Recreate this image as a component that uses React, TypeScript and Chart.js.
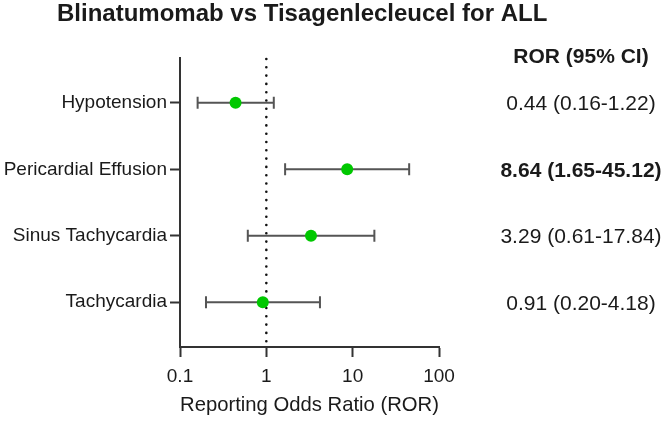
import React, { useEffect, useRef } from 'react';
import { Chart, registerables } from 'chart.js';

Chart.register(...registerables);

const categories = ['Hypotension', 'Pericardial Effusion', 'Sinus Tachycardia', 'Tachycardia'];
const rorValues = [0.44, 8.64, 3.29, 0.91];
const ciLower = [0.16, 1.65, 0.61, 0.2];
const ciUpper = [1.22, 45.12, 17.84, 4.18];
const rorLabels = ['0.44 (0.16-1.22)', '8.64 (1.65-45.12)', '3.29 (0.61-17.84)', '0.91 (0.20-4.18)'];
const boldRows = [false, true, false, false];
const xTickValues = [0.1, 1, 10, 100];
const xTickLabels = ['0.1', '1', '10', '100'];
const titleText = 'Blinatumomab vs Tisagenlecleucel for ALL';
const columnHeader = 'ROR (95% CI)';
const xAxisTitle = 'Reporting Odds Ratio (ROR)';
const referenceValue = 1;

const FONT = '"Liberation Sans", Arial, Helvetica, sans-serif';
const TEXT = '#1a1a1a';
const AXIS = '#333333';

const forestPlugin = {
  id: 'forestExtras',
  beforeDatasetsDraw(chart: any) {
    const { ctx, chartArea, scales } = chart;
    const x = scales.x;
    const y = scales.y;
    ctx.save();
    // dotted reference line
    const rx = x.getPixelForValue(referenceValue);
    ctx.strokeStyle = '#111111';
    ctx.lineWidth = 2.6;
    ctx.lineCap = 'round';
    ctx.setLineDash([0, 8.3]);
    ctx.beginPath();
    ctx.moveTo(rx, chartArea.top + 1);
    ctx.lineTo(rx, chartArea.bottom);
    ctx.stroke();
    ctx.setLineDash([]);
    // error bars
    ctx.strokeStyle = '#555555';
    ctx.lineWidth = 2;
    ctx.lineCap = 'butt';
    categories.forEach((_, i) => {
      const py = y.getPixelForValue(i);
      const x1 = x.getPixelForValue(ciLower[i]);
      const x2 = x.getPixelForValue(ciUpper[i]);
      ctx.beginPath();
      ctx.moveTo(x1, py);
      ctx.lineTo(x2, py);
      ctx.moveTo(x1, py - 6);
      ctx.lineTo(x1, py + 6);
      ctx.moveTo(x2, py - 6);
      ctx.lineTo(x2, py + 6);
      ctx.stroke();
    });
    ctx.restore();
  },
  afterDraw(chart: any) {
    const { ctx, scales } = chart;
    const y = scales.y;
    ctx.save();
    ctx.fillStyle = TEXT;
    // title
    ctx.font = `bold 24px ${FONT}`;
    ctx.textAlign = 'left';
    ctx.textBaseline = 'alphabetic';
    ctx.fillText(titleText, 57, 21);
    // column header
    const colX = 581;
    ctx.textAlign = 'center';
    ctx.font = `bold 21px ${FONT}`;
    ctx.fillText(columnHeader, colX, 62.5);
    // values
    rorLabels.forEach((lbl, i) => {
      ctx.font = `${boldRows[i] ? 'bold ' : ''}21px ${FONT}`;
      ctx.fillText(lbl, colX, y.getPixelForValue(i) + 7.5);
    });
    ctx.restore();
  },
};

export default function App() {
  const canvasRef = useRef<HTMLCanvasElement | null>(null);

  useEffect(() => {
    if (!canvasRef.current) return;
    const chart = new Chart(canvasRef.current, {
      type: 'scatter',
      data: {
        datasets: [
          {
            data: rorValues.map((v, i) => ({ x: v, y: i })),
            backgroundColor: '#00c800',
            borderWidth: 0,
            pointRadius: 6,
            pointHoverRadius: 6,
          },
        ],
      },
      options: {
        animation: false,
        responsive: false,
        devicePixelRatio: 1,
        events: [],
        layout: { padding: { top: 58, left: 0, right: 227, bottom: 5 } },
        plugins: {
          legend: { display: false },
          tooltip: { enabled: false },
          title: { display: false },
        },
        scales: {
          x: {
            type: 'logarithmic',
            min: 0.1,
            max: 100,
            afterBuildTicks: (s: any) => {
              s.ticks = xTickValues.map((v) => ({ value: v }));
            },
            afterFit: (s: any) => {
              s.height = 71;
              s.paddingLeft = 0;
              s.paddingRight = 0;
            },
            ticks: {
              callback: (_v: any, i: number) => xTickLabels[i],
              font: { family: FONT, size: 19 },
              color: TEXT,
              padding: 8,
              autoSkip: false,
              maxRotation: 0,
            },
            grid: { drawOnChartArea: false, tickLength: 10, tickWidth: 2, tickColor: AXIS },
            border: { color: AXIS, width: 2 },
            title: {
              display: true,
              text: xAxisTitle,
              font: { family: FONT, size: 21 },
              color: TEXT,
              padding: { top: 0, bottom: 0 },
            },
          },
          y: {
            type: 'linear',
            reverse: true,
            min: -0.675,
            max: 3.675,
            afterBuildTicks: (s: any) => {
              s.ticks = categories.map((_, i) => ({ value: i }));
            },
            afterFit: (s: any) => {
              s.width = 180;
              s.paddingTop = 0;
              s.paddingBottom = 0;
            },
            ticks: {
              callback: (v: any) => categories[v as number] ?? '',
              font: { family: FONT, size: 19 },
              color: TEXT,
              padding: 3,
              autoSkip: false,
            },
            grid: { drawOnChartArea: false, tickLength: 10, tickWidth: 2, tickColor: AXIS },
            border: { color: AXIS, width: 2 },
          },
        },
      } as any,
      plugins: [forestPlugin],
    });
    return () => chart.destroy();
  }, []);

  return (
    <div style={{ position: 'absolute', left: 0, top: 0, width: 666, height: 423, background: '#ffffff' }}>
      <canvas ref={canvasRef} width={666} height={423} style={{ display: 'block', width: 666, height: 423 }} />
    </div>
  );
}
